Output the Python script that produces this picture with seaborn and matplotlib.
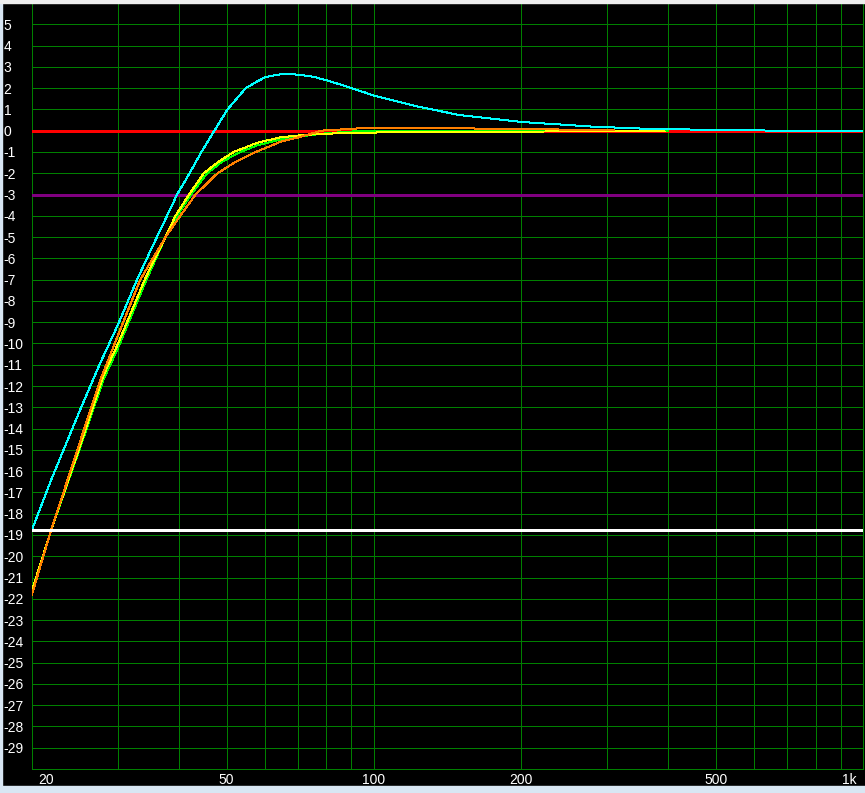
import matplotlib
matplotlib.use("Agg")
import matplotlib.pyplot as plt
import matplotlib.transforms as mtransforms
from matplotlib.patches import Rectangle
import pandas as pd
import seaborn as sns

# --- data (Hz, dB) ---
cyan_hz = [20, 21.9, 25, 27.6, 30, 32.8, 35, 37.5, 39.6, 42, 44.4, 47.2, 50.2, 54.7, 57.9, 60.1,
           63.5, 66.6, 70.8, 75.7, 81.9, 88.6, 96, 100, 123, 150, 200, 280, 360, 455, 670, 1000]
cyan_db = [-18.75, -16.4, -13.2, -10.9, -9.1, -7.0, -5.6, -4.15, -3.0, -2.0, -1.0, 0.0, 1.0, 2.0, 2.33, 2.52,
           2.63, 2.67, 2.62, 2.52, 2.30, 2.05, 1.79, 1.65, 1.13, 0.73, 0.41, 0.19, 0.09, 0.05, 0.0, 0.0]

green_hz = [20, 21.9, 25, 28, 30, 34, 37.5, 39.6, 42.3, 45.6, 49, 53.3, 57.9, 64.5, 70, 80, 90, 100, 400]
green_db = [-21.6, -18.75, -15.0, -11.7, -10.2, -7.2, -5.0, -4.0, -3.0, -2.0, -1.45, -1.0, -0.68, -0.41,
            -0.28, -0.12, -0.04, -0.02, 0.0]

yellow_hz = [20, 21.9, 25, 28, 30, 34, 37.5, 39.3, 41.9, 44.9, 48.2, 51.7, 57.9, 64.5, 72, 80, 100, 116, 393]
yellow_db = [-21.6, -18.75, -14.9, -11.5, -10.0, -7.0, -5.0, -4.0, -3.0, -2.0, -1.45, -1.0, -0.56, -0.31,
             -0.2, -0.14, -0.09, -0.05, -0.03]

orange_hz = [20, 21.9, 25, 27.6, 30, 33.3, 37.5, 40.2, 43.2, 47.9, 52.3, 57.4, 64.5, 70, 75, 78, 85, 90,
             100, 140, 170, 250, 310]
orange_db = [-21.8, -18.75, -14.7, -11.7, -9.6, -7.0, -5.0, -4.0, -3.0, -2.0, -1.45, -1.0, -0.52, -0.32,
             -0.12, 0.0, 0.05, 0.09, 0.14, 0.13, 0.09, 0.05, 0.04]

ref_db = [0.0, -3.0, -18.75]          # horizontal reference lines
ref_colors = ["#ff0000", "#800080", "#ffffff"]

x_major = [20, 50, 100, 200, 500, 1000]
x_labels = ["20", "50", "100", "200", "500", "1k"]
x_minor = [30, 40, 60, 70, 80, 90, 300, 400, 600, 700, 800, 900]
y_ticks = list(range(-29, 6))

curves = pd.concat([
    pd.DataFrame({"hz": green_hz, "db": green_db, "curve": "green"}),
    pd.DataFrame({"hz": yellow_hz, "db": yellow_db, "curve": "yellow"}),
    pd.DataFrame({"hz": orange_hz, "db": orange_db, "curve": "orange"}),
    pd.DataFrame({"hz": cyan_hz, "db": cyan_db, "curve": "cyan"}),
], ignore_index=True)
palette = {"green": "#00ff00", "yellow": "#ffff00", "orange": "#ff8000", "cyan": "#00ffff"}

sns.set_style("dark", {"axes.facecolor": "black", "figure.facecolor": "black"})
plt.rcParams["font.family"] = ["Liberation Sans Narrow", "Liberation Sans", "DejaVu Sans"]

W, H = 865, 793
fig = plt.figure(figsize=(W / 100, H / 100), dpi=100)
ax = fig.add_axes([32 / W, 24 / H, 831 / W, 766 / H])

grid_c = "#008000"
px = 0.72  # one pixel in points
ax.set_xscale("log")
ax.set_xlim(20, 1000)
ax.set_ylim(-30, 6)

# horizontal reference lines (red 0 dB, purple -3 dB, white level line)
for lvl, c in zip(ref_db, ref_colors):
    ax.axhline(lvl, color=c, lw=0.74, antialiased=False, zorder=2.6 if c != "#ffffff" else 5)

sns.lineplot(data=curves, x="hz", y="db", hue="curve", palette=palette, sort=False,
             estimator=None, lw=px, legend=False, ax=ax, zorder=3)
for ln in ax.lines:
    ln.set_antialiased(False)

ax.set_xticks(x_major, x_labels)
ax.set_xticks(x_minor, minor=True)
ax.set_yticks(y_ticks, [str(v) for v in y_ticks])
ax.grid(True, which="both", color=grid_c, lw=px, antialiased=False)
ax.set_axisbelow(True)
ax.set_xlabel("")
ax.set_ylabel("")
for s in ax.spines.values():
    s.set_color(grid_c)
    s.set_linewidth(px)

ax.tick_params(axis="both", which="both", length=0, colors="white", labelsize=10)
ax.tick_params(axis="x", pad=3)
ax.tick_params(axis="y", pad=20.5)
for lab in ax.get_yticklabels():
    lab.set_horizontalalignment("left")

xl = ax.get_xticklabels()
xl[0].set_transform(xl[0].get_transform() + mtransforms.ScaledTranslation(14 / 100, 0, fig.dpi_scale_trans))
xl[-1].set_transform(xl[-1].get_transform() + mtransforms.ScaledTranslation(-14 / 100, 0, fig.dpi_scale_trans))

# window frame strips
fig.patches.append(Rectangle((0, 0), 1, 7 / H, transform=fig.transFigure, color="#d8e6f3", zorder=0))
fig.patches.append(Rectangle((0, 0), 2 / W, 1, transform=fig.transFigure, color="#d8e6f3", zorder=0))
fig.patches.append(Rectangle((0, 1 - 3 / H), 1, 3 / H, transform=fig.transFigure, color="#eeeeee", zorder=0))

fig.savefig("out.png", dpi=100, facecolor="black")
